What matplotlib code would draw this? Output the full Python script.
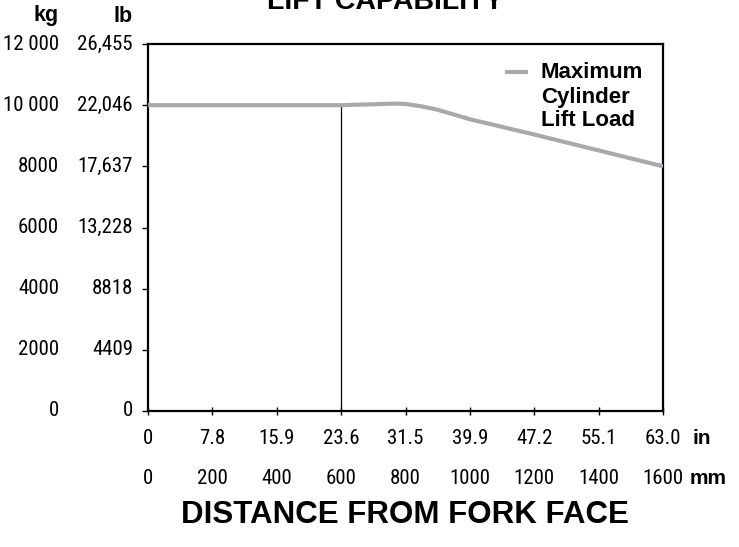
import matplotlib.pyplot as plt
from matplotlib.transforms import blended_transform_factory
from matplotlib import font_manager

# Maximum cylinder lift load vs distance from fork face
dist_mm = [0, 300, 600, 700, 760, 800, 850, 900, 1000, 1200, 1400, 1600]
load_kg = [10000, 10000, 10000, 10030, 10050, 10040, 9960, 9850, 9540, 9040, 8520, 8000]

kg_ticks = [0, 2000, 4000, 6000, 8000, 10000, 12000]
kg_labels = ["0", "2000", "4000", "6000", "8000", "10 000", "12 000"]
lb_labels = ["0", "4409", "8818", "13,228", "17,637", "22,046", "26,455"]

mm_ticks = [0, 200, 400, 600, 800, 1000, 1200, 1400, 1600]
in_labels = ["0", "7.8", "15.9", "23.6", "31.5", "39.9", "47.2", "55.1", "63.0"]
mm_labels = ["0", "200", "400", "600", "800", "1000", "1200", "1400", "1600"]

legend_lines = ["Maximum", "Cylinder", "Lift Load"]

marker_mm = 600
marker_kg = 10000

# pick the narrowest sans available for the numbers
names = {f.name for f in font_manager.fontManager.ttflist}
narrow = "Roboto"
for cand in ["Roboto Condensed", "Liberation Sans Narrow", "DejaVu Sans Condensed"]:
    if cand in names:
        narrow = cand
        break
bold = "Liberation Sans"

W, H = 739, 547
fig = plt.figure(figsize=(W / 100, H / 100), dpi=100)
ax = fig.add_axes([148 / W, 1 - 411 / H, (663 - 148) / W, (411 - 44) / H])

grey = "#a7a9ac"
ax.plot(dist_mm, load_kg, color=grey, lw=3, solid_capstyle="butt",
        solid_joinstyle="round", zorder=3)
ax.plot([marker_mm, marker_mm], [0, marker_kg], color="black", lw=0.9, zorder=2)

ax.set_xlim(0, 1600)
ax.set_ylim(0, 12000)
for s in ax.spines.values():
    s.set_linewidth(1.6)
ax.set_xticks(mm_ticks)
ax.set_yticks(kg_ticks)
ax.set_xticklabels([])
ax.set_yticklabels([])
ax.tick_params(axis="x", direction="inout", length=6, width=1)
ax.tick_params(axis="y", direction="out", length=4, width=1)

fs = 15

# y-axis columns: kg and lb
ty = blended_transform_factory(fig.transFigure, ax.transData)
for v, k, lb in zip(kg_ticks, kg_labels, lb_labels):
    ax.text(59 / W, v, k, transform=ty, ha="right", va="center",
            fontsize=fs, family=narrow, clip_on=False)
    ax.text(133 / W, v, lb, transform=ty, ha="right", va="center",
            fontsize=fs, family=narrow, clip_on=False)
fig.text(59 / W, 1 - 16 / H, "kg", ha="right", va="center",
         fontsize=15.5, weight="bold", family=bold)
fig.text(133 / W, 1 - 16 / H, "lb", ha="right", va="center",
         fontsize=15.5, weight="bold", family=bold)

# x-axis rows: inches and millimetres
tx = blended_transform_factory(ax.transData, fig.transFigure)
for v, i, m in zip(mm_ticks, in_labels, mm_labels):
    ax.text(v, 1 - 438 / H, i, transform=tx, ha="center", va="center",
            fontsize=fs, family=narrow, clip_on=False)
    ax.text(v, 1 - 478 / H, m, transform=tx, ha="center", va="center",
            fontsize=fs, family=narrow, clip_on=False)
fig.text(693 / W, 1 - 438 / H, "in", ha="left", va="center",
         fontsize=15, weight="bold", family=bold)
fig.text(690 / W, 1 - 478 / H, "mm", ha="left", va="center",
         fontsize=15, weight="bold", family=bold)

# legend
fig.add_artist(plt.Line2D([505 / W, 528 / W], [1 - 72 / H, 1 - 72 / H],
                          color=grey, lw=3, solid_capstyle="butt"))
for n, line in enumerate(legend_lines):
    fig.text(541 / W, 1 - (73 + 24 * n) / H, line, ha="left", va="center",
             fontsize=16, weight="bold", family=bold)

fig.text(405 / W, 1 - 515 / H, "DISTANCE FROM FORK FACE", ha="center",
         va="center", fontsize=22.5, weight="bold", family=bold)
fig.text(385 / W, 1 - 9 / H, "LIFT CAPABILITY", ha="center",
         va="baseline", fontsize=20.5, weight="bold", family=bold)

fig.savefig("out.png", dpi=100)
